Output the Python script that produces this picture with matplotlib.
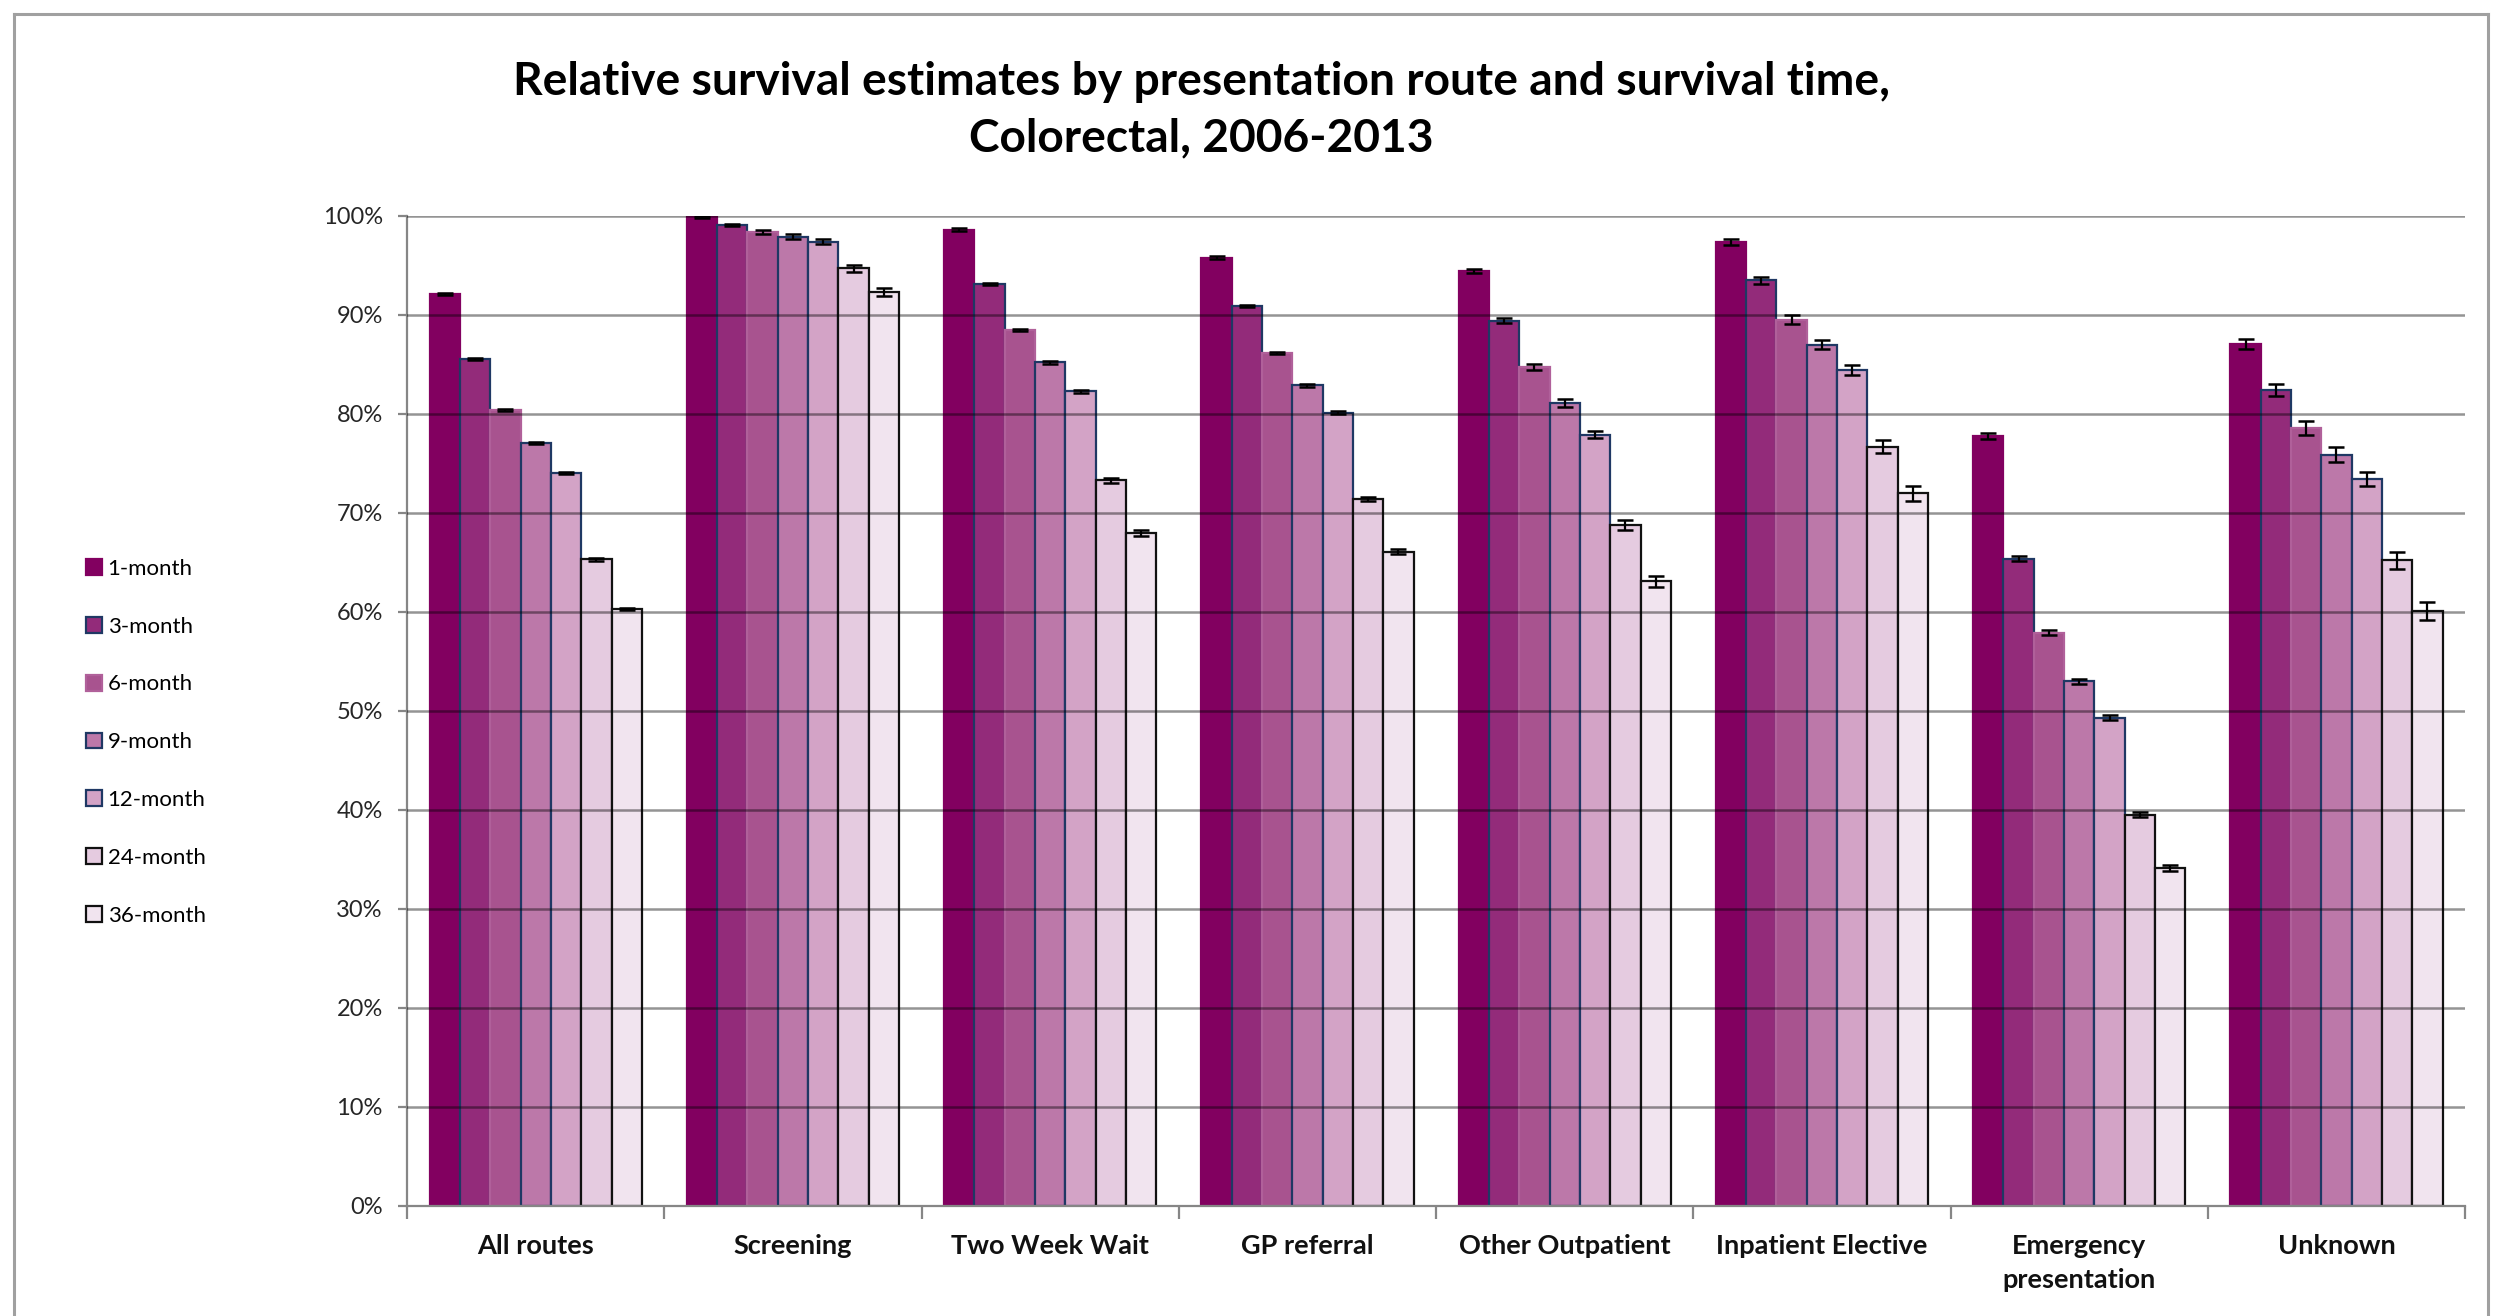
import numpy as np
import matplotlib
matplotlib.use("Agg")
import matplotlib.pyplot as plt
from matplotlib.patches import Patch
from matplotlib.lines import Line2D

plt.rcParams['font.family'] = ['Lato', 'DejaVu Sans']

# presentation routes (x categories)
routes = ["All routes", "Screening", "Two Week Wait", "GP referral",
          "Other Outpatient", "Inpatient Elective", "Emergency\npresentation", "Unknown"]
periods = ["1-month", "3-month", "6-month", "9-month", "12-month", "24-month", "36-month"]

# relative survival (%)
surv_1m = [92.1, 99.9, 98.6, 95.8, 94.4, 97.4, 77.8, 87.1]
surv_3m = [85.6, 99.1, 93.1, 90.9, 89.4, 93.5, 65.4, 82.4]
surv_6m = [80.4, 98.4, 88.5, 86.2, 84.7, 89.5, 57.9, 78.6]
surv_9m = [77.1, 97.9, 85.2, 82.9, 81.1, 87.0, 53.0, 75.9]
surv_12m = [74.0, 97.4, 82.3, 80.1, 77.9, 84.4, 49.3, 73.4]
surv_24m = [65.3, 94.7, 73.3, 71.4, 68.8, 76.7, 39.5, 65.2]
surv_36m = [60.3, 92.3, 68.0, 66.1, 63.1, 72.0, 34.1, 60.1]

# half-width of the confidence intervals (%)
err_1m = [0.1, 0.1, 0.15, 0.15, 0.2, 0.3, 0.3, 0.5]
err_3m = [0.1, 0.1, 0.1, 0.1, 0.25, 0.35, 0.25, 0.6]
err_6m = [0.1, 0.2, 0.1, 0.1, 0.3, 0.45, 0.25, 0.7]
err_9m = [0.1, 0.25, 0.15, 0.15, 0.4, 0.45, 0.25, 0.75]
err_12m = [0.1, 0.25, 0.15, 0.15, 0.35, 0.5, 0.25, 0.7]
err_24m = [0.15, 0.35, 0.25, 0.2, 0.5, 0.65, 0.25, 0.9]
err_36m = [0.15, 0.4, 0.3, 0.25, 0.55, 0.75, 0.3, 0.9]

values = [surv_1m, surv_3m, surv_6m, surv_9m, surv_12m, surv_24m, surv_36m]
errors = [err_1m, err_3m, err_6m, err_9m, err_12m, err_24m, err_36m]

colors = ["#820060", "#932b7a", "#a8538f", "#bc78a9", "#d3a3c6", "#e5cbe0", "#f1e4ef"]
edges = ["#820060", "#1f3864", "#b0609a", "#1f3864", "#1f3864", "#111111", "#111111"]

fig = plt.figure(figsize=(24.93, 13.16), dpi=100)
ax = fig.add_axes([0.1633, 0.0836, 0.8255, 0.7523])

x = np.arange(len(routes))
width = 0.825 / len(periods)

for j in range(len(periods)):
    pos = x + (j - 3) * width
    ax.bar(pos, values[j], width, color=colors[j], edgecolor=edges[j],
           linewidth=1.6, zorder=2)
    ax.errorbar(pos, values[j], yerr=errors[j], fmt='none', ecolor='black',
                elinewidth=1.6, capsize=5.5, capthick=1.8, zorder=4)

# gridlines on top of the bars (they show through as darker bands)
ax.set_ylim(0, 100)
ax.set_yticks(np.arange(0, 101, 10))
ax.set_yticklabels([f"{v}%" for v in range(0, 101, 10)])
for v in range(10, 101, 10):
    ax.axhline(v, color=(0, 0, 0, 0.42), linewidth=1.8, zorder=3)

ax.set_xlim(-0.5, len(routes) - 0.5)
ax.set_xticks(x)
ax.set_xticklabels(routes, fontweight='bold', fontsize=19.5, color='#111111',
                   linespacing=1.5, va='top')
ax.set_xticks(np.arange(-0.5, len(routes), 1), minor=True)
ax.tick_params(axis='x', which='major', length=0, pad=20)
ax.tick_params(axis='x', which='minor', length=9, width=1.6, color='#868686')
ax.tick_params(axis='y', length=6.5, width=1.6, color='#868686', pad=11,
               labelsize=17, labelcolor='#262626')

for side in ['top', 'right']:
    ax.spines[side].set_visible(False)
for side in ['left', 'bottom']:
    ax.spines[side].set_color('#868686')
    ax.spines[side].set_linewidth(1.6)

fig.text(0.482, 0.916, "Relative survival estimates by presentation route and survival time,\nColorectal, 2006-2013",
         ha='center', va='center', fontsize=33.2, fontweight='bold', linespacing=1.42)

handles = [Patch(facecolor=colors[j], edgecolor=edges[j], linewidth=1.6, label=periods[j])
           for j in range(len(periods))]
fig.legend(handles=handles, loc='center left', bbox_to_anchor=(0.0345, 0.436),
           frameon=False, fontsize=16, handlelength=0.72, handleheight=0.72,
           handletextpad=0.25, labelspacing=1.7, borderpad=0, borderaxespad=0)

# outer frame of the chart area (open at the bottom)
frame_kw = dict(color='#a0a0a0', linewidth=2.2, transform=fig.transFigure)
fig.add_artist(Line2D([14 / 2493, 14 / 2493], [0, 1 - 14 / 1316], **frame_kw))
fig.add_artist(Line2D([14 / 2493, 2488 / 2493], [1 - 14 / 1316, 1 - 14 / 1316], **frame_kw))
fig.add_artist(Line2D([2488 / 2493, 2488 / 2493], [0, 1 - 14 / 1316], **frame_kw))

fig.savefig("out.png", dpi=100, facecolor='white')
